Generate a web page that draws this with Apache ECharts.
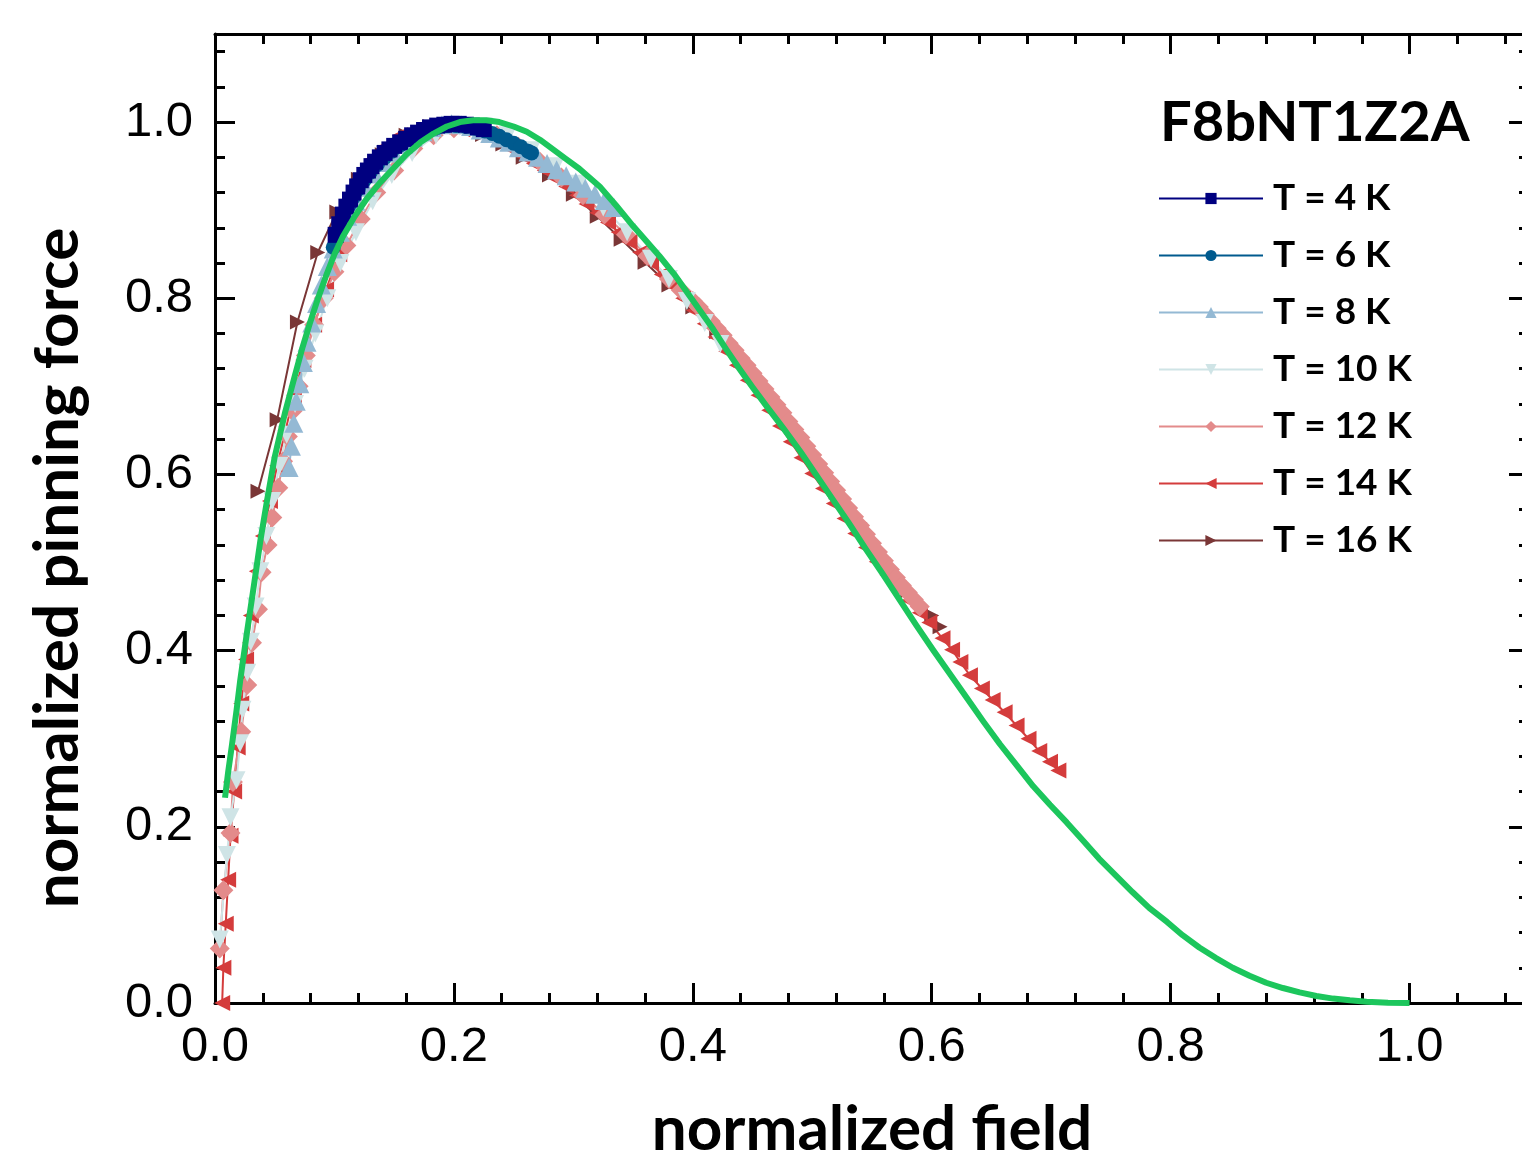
<!DOCTYPE html>
<html>
<head>
  <meta charset="utf-8">
  <title>pinning force</title>
  <script src="https://cdn.jsdelivr.net/npm/echarts@6/dist/echarts.min.js"></script>
  <style>
    body { margin: 0; overflow: hidden; background: #fff; }
    #chart { width: 1540px; height: 1168px; }
  </style>
</head>
<body>
<div id="chart"></div>
<script type="text/javascript">
// data: [normalized field, normalized pinning force]
var t4 = [[0.101,0.872],[0.104,0.884],[0.107,0.895],[0.110,0.904],[0.113,0.912],[0.116,0.920],[0.119,0.927],[0.122,0.934],[0.125,0.940],[0.128,0.945],[0.131,0.950],[0.134,0.955],[0.138,0.960],[0.142,0.965],[0.146,0.969],[0.150,0.973],[0.155,0.977],[0.160,0.981],[0.165,0.985],[0.170,0.988],[0.175,0.991],[0.180,0.994],[0.186,0.996],[0.192,0.997],[0.198,0.998],[0.204,0.998],[0.210,0.997],[0.215,0.996],[0.220,0.994],[0.225,0.992]];
var t6 = [[0.099,0.858],[0.101,0.868],[0.104,0.880],[0.108,0.893],[0.112,0.905],[0.116,0.915],[0.120,0.924],[0.125,0.934],[0.130,0.943],[0.136,0.952],[0.142,0.960],[0.148,0.967],[0.155,0.974],[0.162,0.980],[0.170,0.986],[0.178,0.991],[0.186,0.994],[0.194,0.996],[0.202,0.996],[0.210,0.995],[0.218,0.993],[0.226,0.990],[0.232,0.987],[0.238,0.984],[0.244,0.980],[0.250,0.976],[0.256,0.972],[0.262,0.967],[0.265,0.965]];
var t8 = [[0.062,0.608],[0.064,0.632],[0.066,0.658],[0.068,0.683],[0.071,0.703],[0.074,0.727],[0.077,0.750],[0.081,0.772],[0.085,0.794],[0.089,0.815],[0.094,0.836],[0.099,0.856],[0.105,0.875],[0.111,0.893],[0.118,0.910],[0.126,0.926],[0.134,0.941],[0.142,0.954],[0.150,0.965],[0.158,0.975],[0.166,0.983],[0.174,0.989],[0.182,0.994],[0.190,0.997],[0.198,0.998],[0.206,0.997],[0.214,0.995],[0.222,0.991],[0.230,0.987],[0.238,0.982],[0.246,0.977],[0.254,0.971],[0.262,0.966],[0.270,0.960],[0.278,0.953],[0.286,0.946],[0.294,0.939],[0.302,0.932],[0.310,0.925],[0.318,0.918],[0.326,0.911],[0.334,0.903]];
var t10 = [[0.004,0.072],[0.010,0.168],[0.013,0.211],[0.018,0.253],[0.021,0.295],[0.023,0.333],[0.027,0.375],[0.030,0.410],[0.034,0.450],[0.038,0.490],[0.043,0.530],[0.048,0.570],[0.054,0.610],[0.060,0.645],[0.067,0.680],[0.075,0.720],[0.084,0.760],[0.094,0.800],[0.105,0.840],[0.118,0.875],[0.132,0.910],[0.148,0.940],[0.165,0.965],[0.185,0.985],[0.205,0.995],[0.225,0.995],[0.245,0.985],[0.265,0.968],[0.285,0.950],[0.305,0.930],[0.325,0.903],[0.345,0.875],[0.365,0.845],[0.380,0.822],[0.395,0.797],[0.410,0.772],[0.423,0.748]];
var t12 = [[0.004,0.062],[0.007,0.128],[0.013,0.193],[0.015,0.251],[0.022,0.308],[0.027,0.361],[0.031,0.409],[0.036,0.447],[0.039,0.489],[0.044,0.520],[0.048,0.551],[0.053,0.585],[0.057,0.615],[0.061,0.643],[0.065,0.672],[0.070,0.700],[0.076,0.735],[0.083,0.770],[0.091,0.800],[0.100,0.830],[0.110,0.860],[0.122,0.890],[0.135,0.920],[0.150,0.945],[0.166,0.970],[0.183,0.985],[0.200,0.993],[0.218,0.993],[0.236,0.985],[0.254,0.972],[0.272,0.955],[0.290,0.937],[0.308,0.917],[0.326,0.895],[0.344,0.872],[0.362,0.848],[0.380,0.822],[0.390,0.809],[0.400,0.797],[0.405,0.790],[0.410,0.782],[0.415,0.774],[0.420,0.766],[0.425,0.758],[0.430,0.749],[0.435,0.741],[0.440,0.732],[0.445,0.724],[0.450,0.715],[0.455,0.706],[0.460,0.697],[0.465,0.688],[0.470,0.679],[0.475,0.670],[0.480,0.660],[0.485,0.651],[0.490,0.642],[0.495,0.632],[0.500,0.622],[0.505,0.612],[0.510,0.602],[0.515,0.592],[0.520,0.582],[0.525,0.572],[0.530,0.562],[0.535,0.552],[0.540,0.542],[0.545,0.532],[0.550,0.522],[0.555,0.512],[0.560,0.502],[0.565,0.492],[0.570,0.483],[0.575,0.474],[0.580,0.466],[0.585,0.458],[0.590,0.450]];
var t14 = [[0.006,0.000],[0.007,0.040],[0.009,0.090],[0.011,0.140],[0.013,0.190],[0.016,0.240],[0.019,0.290],[0.022,0.340],[0.026,0.390],[0.030,0.440],[0.035,0.490],[0.040,0.530],[0.046,0.570],[0.052,0.610],[0.059,0.650],[0.066,0.690],[0.074,0.730],[0.083,0.770],[0.093,0.810],[0.104,0.850],[0.115,0.915],[0.124,0.940],[0.132,0.958],[0.142,0.972],[0.155,0.985],[0.172,0.993],[0.190,0.995],[0.207,0.992],[0.224,0.986],[0.233,0.981],[0.241,0.975],[0.250,0.968],[0.258,0.961],[0.267,0.953],[0.276,0.945],[0.285,0.936],[0.294,0.927],[0.303,0.917],[0.311,0.907],[0.320,0.897],[0.329,0.886],[0.338,0.875],[0.347,0.864],[0.356,0.852],[0.365,0.840],[0.374,0.827],[0.383,0.814],[0.392,0.800],[0.401,0.786],[0.410,0.771],[0.419,0.756],[0.428,0.740],[0.437,0.724],[0.446,0.707],[0.455,0.690],[0.464,0.673],[0.473,0.655],[0.482,0.637],[0.491,0.619],[0.500,0.601],[0.509,0.584],[0.518,0.567],[0.527,0.550],[0.536,0.533],[0.545,0.517],[0.554,0.501],[0.563,0.486],[0.572,0.471],[0.581,0.457],[0.590,0.443],[0.598,0.432],[0.609,0.414],[0.617,0.401],[0.624,0.387],[0.632,0.372],[0.642,0.357],[0.651,0.344],[0.661,0.330],[0.671,0.315],[0.681,0.300],[0.690,0.286],[0.699,0.274],[0.706,0.264]];
var t16 = [[0.036,0.581],[0.052,0.662],[0.069,0.773],[0.086,0.852],[0.102,0.898],[0.120,0.935],[0.140,0.963],[0.160,0.985],[0.180,0.995],[0.200,0.996],[0.224,0.986],[0.241,0.975],[0.258,0.960],[0.280,0.940],[0.300,0.918],[0.320,0.893],[0.340,0.867],[0.360,0.841],[0.380,0.815],[0.400,0.790],[0.420,0.762],[0.440,0.730],[0.460,0.695],[0.480,0.658],[0.500,0.620],[0.520,0.580],[0.540,0.545],[0.560,0.505],[0.580,0.468],[0.600,0.440],[0.607,0.427]];
var fit = [[0.0084,0.233],[0.011,0.262],[0.014,0.291],[0.018,0.332],[0.021,0.365],[0.027,0.423],[0.033,0.478],[0.038,0.525],[0.0435,0.570],[0.050,0.620],[0.0586,0.670],[0.067,0.713],[0.073,0.743],[0.0795,0.772],[0.086,0.799],[0.0937,0.828],[0.100,0.850],[0.107,0.870],[0.117,0.893],[0.127,0.913],[0.138,0.931],[0.149,0.947],[0.160,0.963],[0.172,0.977],[0.183,0.987],[0.194,0.995],[0.205,1.000],[0.216,1.002],[0.227,1.002],[0.238,1.000],[0.250,0.995],[0.261,0.989],[0.272,0.980],[0.283,0.969],[0.294,0.958],[0.305,0.947],[0.322,0.927],[0.336,0.905],[0.350,0.882],[0.361,0.865],[0.372,0.848],[0.384,0.828],[0.395,0.807],[0.406,0.786],[0.417,0.765],[0.428,0.742],[0.439,0.720],[0.450,0.699],[0.462,0.677],[0.476,0.652],[0.490,0.626],[0.503,0.600],[0.517,0.572],[0.531,0.544],[0.545,0.515],[0.559,0.487],[0.573,0.458],[0.587,0.429],[0.601,0.401],[0.615,0.374],[0.629,0.347],[0.643,0.320],[0.657,0.294],[0.671,0.270],[0.685,0.246],[0.699,0.225],[0.713,0.205],[0.727,0.184],[0.740,0.164],[0.754,0.145],[0.768,0.126],[0.782,0.108],[0.797,0.092],[0.810,0.077],[0.824,0.063],[0.838,0.051],[0.852,0.040],[0.866,0.031],[0.880,0.023],[0.894,0.017],[0.908,0.012],[0.922,0.008],[0.936,0.005],[0.950,0.003],[0.964,0.0015],[0.982,0.0004],[1.000,0.000]];

var names = ['T = 4 K', 'T = 6 K', 'T = 8 K', 'T = 10 K', 'T = 12 K', 'T = 14 K', 'T = 16 K'];
var majorTicks = 0.2;
var minorTicks = 0.04;

var chart = echarts.init(document.getElementById('chart'));

var tickFont = "'Liberation Sans', Arial, sans-serif";
var boldFont = "Lato, 'Open Sans', sans-serif";

function axis(pos, interval, len, line, label) {
  return {
    type: 'value', min: 0, max: 1.1, interval: interval, position: pos,
    axisLine: { show: line, onZero: false, lineStyle: { color: '#000', width: 3 } },
    axisTick: { show: true, inside: true, length: len, lineStyle: { color: '#000', width: 3 } },
    axisLabel: label ? {
      show: true, margin: 20, fontSize: 49, fontFamily: tickFont, color: '#000',
      formatter: function (v) { return v > 1.05 ? '' : v.toFixed(1); }
    } : { show: false },
    splitLine: { show: false }
  };
}

function series(name, data, color, symbol, size, rotate) {
  return {
    name: name, type: 'line', data: data, symbol: symbol, symbolSize: size,
    symbolRotate: rotate, showAllSymbol: true,
    lineStyle: { color: color, width: 2 }, itemStyle: { color: color },
    emphasis: { disabled: true }
  };
}

var xMain = axis('bottom', majorTicks, 20, true, true);
xMain.name = 'normalized field';
xMain.nameLocation = 'middle';
xMain.nameGap = 96;
xMain.nameTextStyle = { fontFamily: boldFont, fontWeight: 'bold', fontSize: 62, color: '#000' };

var yMain = axis('left', majorTicks, 20, true, true);
yMain.axisLabel.margin = 22;

chart.setOption({
  animation: false,
  backgroundColor: '#fff',
  title: {
    text: 'F8bNT1Z2A', left: 1155, top: 90,
    textStyle: { fontFamily: boldFont, fontWeight: 'bold', fontSize: 56, color: '#000' }
  },
  legend: {
    data: names, orient: 'vertical', left: 1158, top: 180, padding: 0,
    itemWidth: 104, itemHeight: 14, itemGap: 20, selectedMode: false,
    textStyle: { fontFamily: boldFont, fontWeight: 'bold', fontSize: 37, color: '#000', padding: [0, 0, 0, 5] }
  },
  graphic: [{
    type: 'text', x: 58, y: 568, rotation: Math.PI / 2,
    style: {
      text: 'normalized pinning force', fontFamily: boldFont, fontWeight: 'bold', fontSize: 62,
      fill: '#000', align: 'center', verticalAlign: 'middle'
    }
  }],
  grid: { left: 215, top: 34, width: 1314, height: 969, containLabel: false },
  xAxis: [xMain, axis('bottom', minorTicks, 10, false, false),
          axis('top', majorTicks, 20, true, false), axis('top', minorTicks, 10, false, false)],
  yAxis: [yMain, axis('left', minorTicks, 10, false, false),
          axis('right', majorTicks, 20, true, false), axis('right', minorTicks, 10, false, false)],
  series: [
    series(names[6], t16, '#7a3636', 'triangle', 15, -90),
    series(names[5], t14, '#d43c3c', 'triangle', 16, 90),
    series(names[4], t12, '#e38b8b', 'diamond', 20, 0),
    series(names[3], t10, '#cfe4e6', 'triangle', 18, 180),
    series(names[2], t8, '#94b9d4', 'triangle', 19, 0),
    series(names[1], t6, '#005a8e', 'circle', 15, 0),
    series(names[0], t4, '#000080', 'rect', 16, 0),
    {
      name: 'fit', type: 'line', data: fit, symbol: 'none', smooth: false,
      lineStyle: { color: '#1cc65c', width: 6, join: 'round' }, z: 5, emphasis: { disabled: true }
    }
  ]
});
</script>
</body>
</html>
